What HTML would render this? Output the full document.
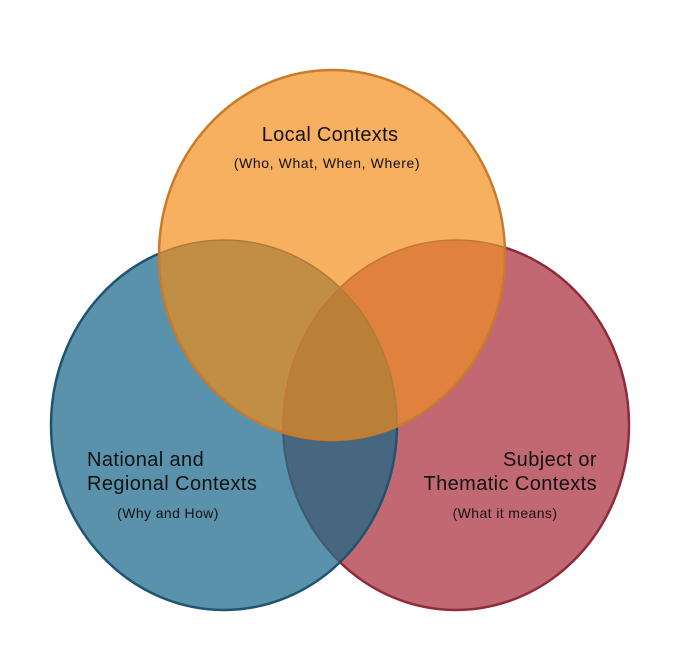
<!DOCTYPE html>
<html><head><style>
html,body{margin:0;padding:0;background:#fff;}
svg{display:block;}
text{font-family:"Liberation Sans",sans-serif;fill:#111;}
</style></head><body>
<svg width="688" height="660" viewBox="0 0 688 660" xmlns="http://www.w3.org/2000/svg">
<defs>
<clipPath id="cT"><ellipse cx="332" cy="255" rx="173" ry="185"/></clipPath>
<clipPath id="cL"><ellipse cx="224" cy="425" rx="173" ry="185"/></clipPath>
<clipPath id="cR"><ellipse cx="456" cy="425" rx="173" ry="185"/></clipPath>
</defs>
<ellipse cx="456" cy="425" rx="173" ry="185" fill="#c26872" stroke="#8e2a3a" stroke-width="2.5"/>
<ellipse cx="224" cy="425" rx="173" ry="185" fill="#5a92ac"/>
<g clip-path="url(#cL)"><ellipse cx="456" cy="425" rx="173" ry="185" fill="#46677f" stroke="#3d5a72" stroke-width="2"/></g>
<ellipse cx="224" cy="425" rx="173" ry="185" fill="none" stroke="#1f5470" stroke-width="2.5"/>
<ellipse cx="332" cy="255" rx="173" ry="185" fill="#f7b060"/>
<g clip-path="url(#cT)"><ellipse cx="224" cy="425" rx="173" ry="185" fill="#c08e44"/><ellipse cx="456" cy="425" rx="173" ry="185" fill="#e0813e"/></g>
<g clip-path="url(#cT)"><g clip-path="url(#cL)"><ellipse cx="456" cy="425" rx="173" ry="185" fill="#bb8038"/></g></g>
<g clip-path="url(#cT)"><ellipse cx="224" cy="425" rx="173" ry="185" fill="none" stroke="#b07a38" stroke-width="1.5"/><ellipse cx="456" cy="425" rx="173" ry="185" fill="none" stroke="#c0783a" stroke-width="1.5"/></g>
<ellipse cx="332" cy="255" rx="173" ry="185" fill="none" stroke="#c97a2a" stroke-width="2.5"/>
<text x="330" y="141" font-size="20" letter-spacing="0.3" text-anchor="middle">Local Contexts</text>
<text x="327" y="168" font-size="14" letter-spacing="0.6" text-anchor="middle">(Who, What, When, Where)</text>
<text x="87" y="466" font-size="20" letter-spacing="0.4">National and</text>
<text x="87" y="490" font-size="20" letter-spacing="0.4">Regional Contexts</text>
<text x="168" y="518" font-size="14" letter-spacing="0.4" text-anchor="middle">(Why and How)</text>
<text x="597" y="466" font-size="20" letter-spacing="0.4" text-anchor="end">Subject or</text>
<text x="597" y="490" font-size="20" letter-spacing="0.4" text-anchor="end">Thematic Contexts</text>
<text x="505" y="518" font-size="14" letter-spacing="0.4" text-anchor="middle">(What it means)</text>
</svg>
</body></html>
